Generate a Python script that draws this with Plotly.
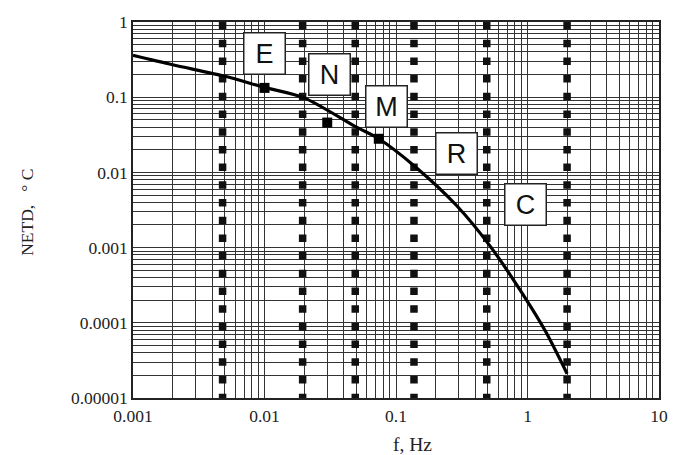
import numpy as np
import plotly.graph_objects as go

# ---- data ----
curve_f = [0.001, 0.002, 0.005, 0.01, 0.02, 0.05, 0.074, 0.14, 0.29, 0.53, 0.92, 1.37, 2.0]
curve_netd = [0.36, 0.27, 0.19, 0.135, 0.098, 0.040, 0.028, 0.0119, 0.0036, 0.00100, 0.00024, 0.000077, 0.000021]

point_f = [0.01, 0.03, 0.074]
point_netd = [0.133, 0.046, 0.028]

band_f = [0.0048, 0.0195, 0.049, 0.137, 0.49, 2.0]

label_text = ["E", "N", "M", "R", "C"]
label_f = [0.01, 0.0314, 0.0845, 0.286, 0.97]
label_netd = [0.376, 0.203, 0.0761, 0.0179, 0.0038]

x_decades = [0.001, 0.01, 0.1, 1, 10]
x_decade_labels = ["0.001", "0.01", "0.1", "1", "10"]
y_decades = [0.00001, 0.0001, 0.001, 0.01, 0.1, 1]
y_decade_labels = ["0.00001", "0.0001", "0.001", "0.01", "0.1", "1"]


def log_ticks(decades, labels):
    vals, texts = [], []
    for i, d in enumerate(decades):
        vals.append(d)
        texts.append(labels[i])
        if i < len(decades) - 1:
            for k in range(2, 10):
                vals.append(k * d)
                texts.append("")
    return vals, texts


xtv, xtt = log_ticks(x_decades, x_decade_labels)
ytv, ytt = log_ticks(y_decades, y_decade_labels)

fig = go.Figure()

# dotted vertical bands
for f in band_f:
    fig.add_trace(go.Scatter(
        x=[f, f], y=[y_decades[-1], y_decades[0]], mode="lines",
        line=dict(color="#111111", width=7.5, dash="7.5px,10.2px"),
        showlegend=False, hoverinfo="skip"))

# curve
fig.add_trace(go.Scatter(
    x=curve_f, y=curve_netd, mode="lines",
    line=dict(color="black", width=3.2, shape="spline", smoothing=0.8),
    showlegend=False))

# points
fig.add_trace(go.Scatter(
    x=point_f, y=point_netd, mode="markers",
    marker=dict(symbol="square", size=10, color="black"),
    showlegend=False))

# labels
for t, fx, fy in zip(label_text, label_f, label_netd):
    fig.add_annotation(
        x=np.log10(fx), y=np.log10(fy), xref="x", yref="y",
        text=t, showarrow=False,
        font=dict(family="Liberation Sans, Arial", size=27, color="#111111"),
        bgcolor="white", bordercolor="#222222", borderwidth=1.5,
        width=34, height=34, borderpad=3)

serif = "Liberation Serif, Times New Roman, serif"

fig.add_annotation(
    x=0.532, y=-0.123, xref="paper", yref="paper", showarrow=False,
    xanchor="center", yanchor="middle",
    text="f, Hz", font=dict(family=serif, size=19.5, color="#222222"))
fig.add_annotation(
    x=-0.203, y=0.493, xref="paper", yref="paper", showarrow=False,
    xanchor="center", yanchor="middle",
    text="NETD,\u00a0\u00a0\u00a0\u00b0\u00a0C", textangle=-90,
    font=dict(family=serif, size=17.5, color="#222222"))

axis_common = dict(
    type="log", showgrid=True, gridcolor="#333333", gridwidth=1,
    showline=True, mirror=True, linecolor="#222222", linewidth=1.5,
    zeroline=False, tickmode="array",
    tickfont=dict(family=serif, size=17.5, color="#222222"),
    ticks="outside", tickcolor="rgba(0,0,0,0)")

fig.update_xaxes(range=[-3, 1], tickvals=xtv, ticktext=xtt, ticklen=1, **axis_common)
fig.update_yaxes(range=[-5, 0], tickvals=ytv, ticktext=ytt, ticklen=0, **axis_common)

fig.update_layout(
    width=680, height=455,
    margin=dict(l=133, r=12, t=16, b=57),
    paper_bgcolor="white", plot_bgcolor="white",
    showlegend=False)

fig.write_html("out.html")
